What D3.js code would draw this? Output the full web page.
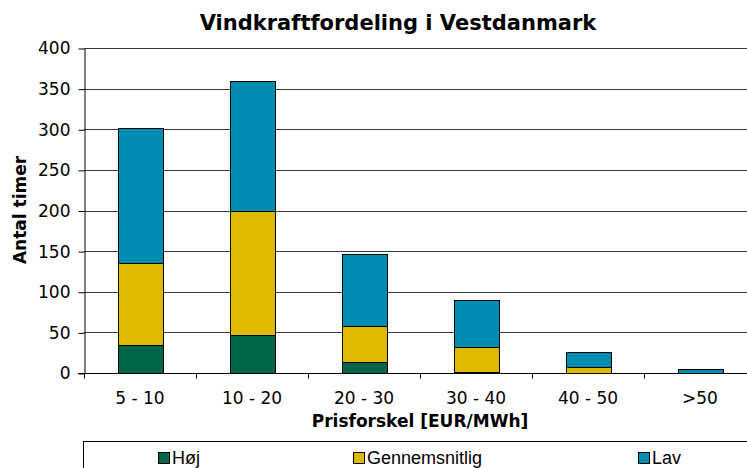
<!DOCTYPE html>
<html>
<head>
<meta charset="utf-8">
<script src="https://cdn.jsdelivr.net/npm/d3@7"></script>
<style>
  body { margin: 0; background: #fff; }
  svg { display: block; }
  .tick text { font-family: "DejaVu Sans", Verdana, sans-serif; font-size: 17px; fill: #000; }
</style>
</head>
<body>
<svg id="chart" width="747" height="468"></svg>
<script>
const categories = ["5 - 10", "10 - 20", "20 - 30", "30 - 40", "40 - 50", ">50"];
const hoej = [35, 47, 13.5, 1.5, 0.5, 0];
const gennemsnitlig = [101, 153, 44, 31, 7, 0.5];
const lav = [166, 159, 88.5, 57, 18, 5];
const seriesNames = ["Høj", "Gennemsnitlig", "Lav"];
const yTicks = [0, 50, 100, 150, 200, 250, 300, 350, 400];

const colours = ["#006647", "#DFB800", "#008BB0"];

const svg = d3.select("#chart");
const margin = { top: 48, right: -9, bottom: 95, left: 84 };
const width = 747, height = 468;

const table = categories.map(function(c, i) {
  return { cat: c, "Høj": hoej[i], "Gennemsnitlig": gennemsnitlig[i], "Lav": lav[i] };
});

const x = d3.scaleBand()
  .domain(categories)
  .range([margin.left, width - margin.right])
  .paddingInner(0.6)
  .paddingOuter(0.3);

const y = d3.scaleLinear()
  .domain([0, 400])
  .range([height - margin.bottom, margin.top]);

// gridlines
svg.append("g")
  .selectAll("line")
    .data(yTicks.slice(1))
  .enter().append("line")
    .attr("x1", margin.left)
    .attr("x2", width)
    .attr("y1", function(d) { return Math.round(y(d)) + 0.5; })
    .attr("y2", function(d) { return Math.round(y(d)) + 0.5; })
    .style("stroke", "#3a3a3a")
    .style("stroke-width", 1);

// stacked bars
const stack = d3.stack().keys(seriesNames);
const layers = stack(table);

svg.append("g")
  .selectAll("g")
    .data(layers)
  .enter().append("g")
    .style("fill", function(d, i) { return colours[i]; })
  .selectAll("rect")
    .data(function(d) { return d; })
  .enter().append("rect")
    .attr("x", function(d) { return Math.round(x(d.data.cat)) + 0.5; })
    .attr("width", Math.round(x.bandwidth()))
    .attr("y", function(d) { return Math.round(y(d[1])) + 0.5; })
    .attr("height", function(d) { return Math.max(0, Math.round(y(d[0])) - Math.round(y(d[1]))); })
    .style("stroke", "#000")
    .style("stroke-width", 1);

// y axis
const yAxis = d3.axisLeft(y)
  .tickValues(yTicks)
  .tickSize(6)
  .tickSizeOuter(0)
  .tickPadding(8);

const yG = svg.append("g")
  .attr("transform", "translate(" + (margin.left + 0.5) + ",0.5)")
  .call(yAxis);
yG.selectAll("path, line").style("stroke", "#000");

// x axis with ticks at category boundaries
const xBase = Math.round(y(0)) + 0.5;
svg.append("line")
  .attr("x1", margin.left - 6)
  .attr("x2", width)
  .attr("y1", xBase)
  .attr("y2", xBase)
  .style("stroke", "#000");

const step = x.step();
svg.append("g")
  .selectAll("line")
    .data(d3.range(categories.length + 1))
  .enter().append("line")
    .attr("x1", function(i) { return Math.round(margin.left + i * step) + 0.5; })
    .attr("x2", function(i) { return Math.round(margin.left + i * step) + 0.5; })
    .attr("y1", xBase)
    .attr("y2", xBase + 5)
    .style("stroke", "#000");

svg.append("g")
  .selectAll("text")
    .data(categories)
  .enter().append("text")
    .attr("x", function(d) { return x(d) + x.bandwidth() / 2; })
    .attr("y", 404)
    .attr("text-anchor", "middle")
    .style("font-family", "'DejaVu Sans', Verdana, sans-serif")
    .style("font-size", "17px")
    .text(function(d) { return d; });

// titles
svg.append("text")
  .attr("x", 398)
  .attr("y", 30)
  .attr("text-anchor", "middle")
  .style("font-family", "'DejaVu Sans', Verdana, sans-serif")
  .style("font-weight", "bold")
  .style("font-size", "21px")
  .text("Vindkraftfordeling i Vestdanmark");

svg.append("text")
  .attr("transform", "translate(26," + 210 + ") rotate(-90)")
  .attr("text-anchor", "middle")
  .style("font-family", "'DejaVu Sans', Verdana, sans-serif")
  .style("font-weight", "bold")
  .style("font-size", "17px")
  .text("Antal timer");

svg.append("text")
  .attr("x", 420)
  .attr("y", 427)
  .attr("text-anchor", "middle")
  .style("font-family", "'DejaVu Sans', Verdana, sans-serif")
  .style("font-weight", "bold")
  .style("font-size", "17px")
  .text("Prisforskel [EUR/MWh]");

// legend
const legend = svg.append("g");
legend.append("rect")
  .attr("x", 83.5)
  .attr("y", 441.5)
  .attr("width", 700)
  .attr("height", 60)
  .style("fill", "#fff")
  .style("stroke", "#000");

const legendX = [158, 353, 638];
const items = legend.selectAll(".item")
    .data(seriesNames)
  .enter().append("g")
    .attr("transform", function(d, i) { return "translate(" + legendX[i] + ",452)"; });

items.append("rect")
  .attr("x", 0.5)
  .attr("y", 0.5)
  .attr("width", 11)
  .attr("height", 11)
  .style("fill", function(d, i) { return colours[i]; })
  .style("stroke", "#000");

items.append("text")
  .attr("x", 14)
  .attr("y", 12)
  .style("font-family", "'Liberation Sans Narrow', 'Liberation Sans', Arial, sans-serif")
  .style("font-size", "18px")
  .text(function(d) { return d; });
</script>
</body>
</html>
